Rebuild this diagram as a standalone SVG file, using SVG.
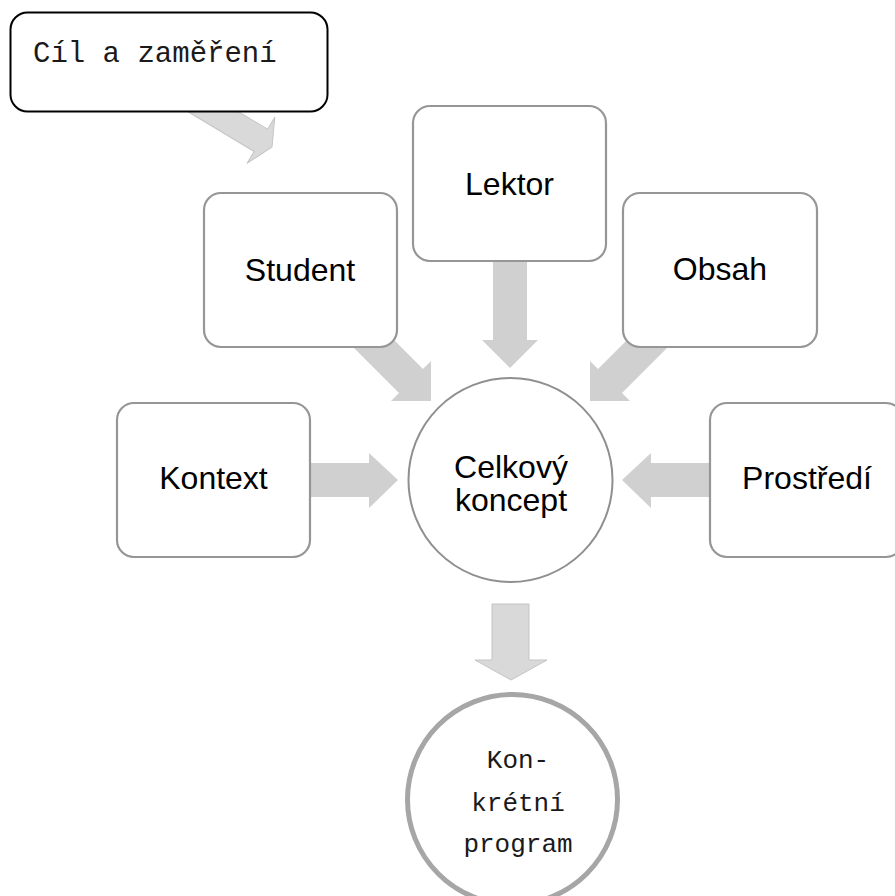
<svg xmlns="http://www.w3.org/2000/svg" width="895" height="896" viewBox="0 0 895 896">
  <style>
    .box { fill: #ffffff; stroke: #969696; stroke-width: 2.2; }
    .arrow { fill: #d0d0d0; }
    .arrow-soft { fill: #d9d9d9; stroke: #c4c4c4; stroke-width: 1; }
    .sans { font-family: "Liberation Sans", Arial, sans-serif; font-size: 32px; fill: #000000; text-anchor: middle; }
    .mono { font-family: "Liberation Mono", "Courier New", monospace; fill: #1a1a1a; }
  </style>
  <rect width="895" height="896" fill="#ffffff"/>

  <!-- block arrows, drawn first so the nodes cover their tails -->
  <g id="connectors">
    <g transform="translate(272,147) rotate(31)">
      <polygon class="arrow-soft" points="-125,-13 -13,-13 -13,-27 0,0 -13,27 -13,13 -125,13"/>
    </g>
    <polygon class="arrow" points="363,309 423,369 431,361 431,401 391,401 399,393 339,333"/>
    <polygon class="arrow" points="493,255 527,255 527,340 538,340 510,368 482,340 493,340"/>
    <polygon class="arrow" points="658,309 598,369 590,361 590,401 630,401 622,393 682,333"/>
    <polygon class="arrow" points="305,463 369,463 369,453 398,480 369,508 369,497 305,497"/>
    <polygon class="arrow" points="716,463 651,463 651,453 622,480 651,508 651,497 716,497"/>
    <polygon class="arrow-soft" points="492,604 529,604 529,660 547,660 511,680 475,660 492,660"/>
  </g>

  <g id="cil">
    <rect x="10.5" y="12.5" width="317" height="99" rx="17" fill="#ffffff" stroke="#000000" stroke-width="2"/>
    <text class="mono" x="33" y="62" font-size="29">Cíl a zaměření</text>
  </g>

  <g id="student">
    <rect class="box" x="204" y="193" width="193" height="154" rx="17"/>
    <text class="sans" x="300" y="281">Student</text>
  </g>

  <g id="lektor">
    <rect class="box" x="413" y="106" width="193" height="155" rx="17"/>
    <text class="sans" x="509.5" y="195">Lektor</text>
  </g>

  <g id="obsah">
    <rect class="box" x="623" y="193" width="194" height="154" rx="17"/>
    <text class="sans" x="720" y="280">Obsah</text>
  </g>

  <g id="kontext">
    <rect class="box" x="117" y="403" width="193" height="154" rx="17"/>
    <text class="sans" x="213.5" y="489">Kontext</text>
  </g>

  <g id="prostredi">
    <rect class="box" x="710" y="403" width="193" height="154" rx="17"/>
    <text class="sans" x="807" y="489">Prostředí</text>
  </g>

  <g id="celkovy-koncept">
    <circle cx="510.5" cy="480" r="102" fill="#ffffff" stroke="#8f8f8f" stroke-width="2"/>
    <text class="sans" x="511" y="478" font-size="31">Celkový</text>
    <text class="sans" x="511" y="511" font-size="31">koncept</text>
  </g>

  <g id="konkretni-program">
    <circle cx="512.5" cy="799.5" r="105" fill="#ffffff" stroke="#a6a6a6" stroke-width="5"/>
    <text class="mono" x="518" y="768" font-size="26" text-anchor="middle">Kon-</text>
    <text class="mono" x="518" y="811" font-size="26" text-anchor="middle">krétní</text>
    <text class="mono" x="518" y="852" font-size="26" text-anchor="middle">program</text>
  </g>
</svg>
